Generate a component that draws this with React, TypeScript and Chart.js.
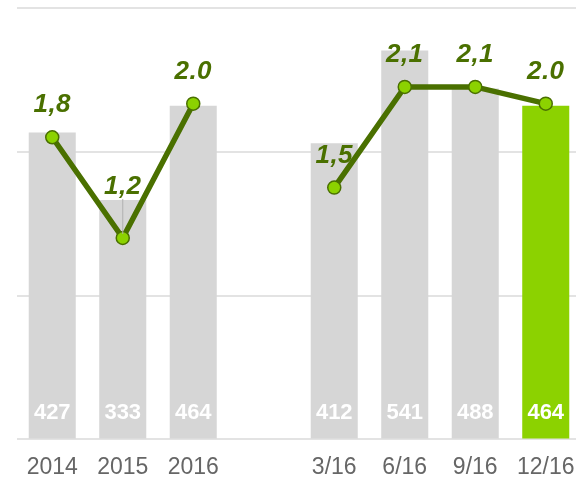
import React, { useEffect, useRef } from "react";
import { Chart, registerables } from "chart.js";

Chart.register(...registerables);

const categories = ["2014", "2015", "2016", "", "3/16", "6/16", "9/16", "12/16"];
const barValues = [427, 333, 464, null, 412, 541, 488, 464];
const barLabels = ["427", "333", "464", "", "412", "541", "488", "464"];
const lineValues = [1.8, 1.2, 2.0, null, 1.5, 2.1, 2.1, 2.0];
const lineLabels = ["1,8", "1,2", "2.0", "", "1,5", "2,1", "2,1", "2.0"];
const highlightIndex = 7;

const GRAY = "#d6d6d6";
const GREEN = "#8cd200";
const DARK = "#4a7000";
const FONT = "'Liberation Sans', Arial, sans-serif";

const labelPlugin = {
  id: "labels",
  afterDatasetsDraw(chart: any) {
    const ctx = chart.ctx;
    const barMeta = chart.getDatasetMeta(0);
    const lineMeta = chart.getDatasetMeta(1);
    const yScale = chart.scales.y;
    ctx.save();
    ctx.fillStyle = "#ffffff";
    ctx.font = `bold 22px ${FONT}`;
    ctx.textAlign = "center";
    ctx.textBaseline = "middle";
    barMeta.data.forEach((el: any, i: number) => {
      if (barValues[i] == null) return;
      ctx.fillText(barLabels[i], el.x, yScale.bottom - 26);
    });
    ctx.font = `italic bold 26px ${FONT}`;
    (ctx as any).letterSpacing = "0.5px";
    ctx.fillStyle = DARK;
    lineMeta.data.forEach((el: any, i: number) => {
      if (lineValues[i] == null) return;
      const bar = barMeta.data[i];
      let y = el.y - 32;
      if (i === 1) {
        y = bar.y - 13;
        ctx.strokeStyle = "#b0b0b0";
        ctx.lineWidth = 1;
        ctx.beginPath();
        ctx.moveTo(el.x, y + 12);
        ctx.lineTo(el.x, el.y - 4);
        ctx.stroke();
      }
      ctx.fillText(lineLabels[i], el.x, y);
    });
    ctx.restore();
  },
};

export default function App() {
  const ref = useRef<HTMLCanvasElement>(null);
  useEffect(() => {
    document.body.style.margin = "0";
    document.body.style.overflow = "hidden";
    const chart = new Chart(ref.current!, {
      type: "bar",
      data: {
        labels: categories,
        datasets: [
          {
            type: "bar",
            data: barValues,
            backgroundColor: barValues.map((_, i) => (i === highlightIndex ? GREEN : GRAY)),
            categoryPercentage: 1,
            barPercentage: 0.667,
            yAxisID: "y",
            order: 1,
          },
          {
            type: "line",
            data: lineValues,
            borderColor: DARK,
            borderWidth: 5.5,
            pointRadius: 6.5,
            pointBackgroundColor: GREEN,
            pointBorderColor: DARK,
            pointBorderWidth: 1.5,
            spanGaps: false,
            yAxisID: "y2",
            order: 0,
          },
        ] as any,
      },
      options: {
        animation: false,
        responsive: false,
        maintainAspectRatio: false,
        layout: { padding: { left: 17, top: 8, right: 0, bottom: 0 } },
        plugins: { legend: { display: false }, tooltip: { enabled: false } },
        scales: {
          x: {
            grid: { display: false },
            border: { display: false },
            ticks: { color: "#666666", font: { family: FONT, size: 23 }, padding: 6, maxRotation: 0, autoSkip: false },
          },
          y: {
            min: 0,
            max: 600,
            ticks: { display: false, stepSize: 200 },
            grid: { color: "#e3e3e3", lineWidth: 2, drawTicks: false },
            border: { display: false },
          },
          y2: {
            display: false,
            min: 0,
            max: 2.57,
          },
        },
      },
      plugins: [labelPlugin],
    });
    return () => chart.destroy();
  }, []);
  return (
    <div style={{ width: 589, height: 487 }}>
      <canvas ref={ref} width={589} height={487} />
    </div>
  );
}
